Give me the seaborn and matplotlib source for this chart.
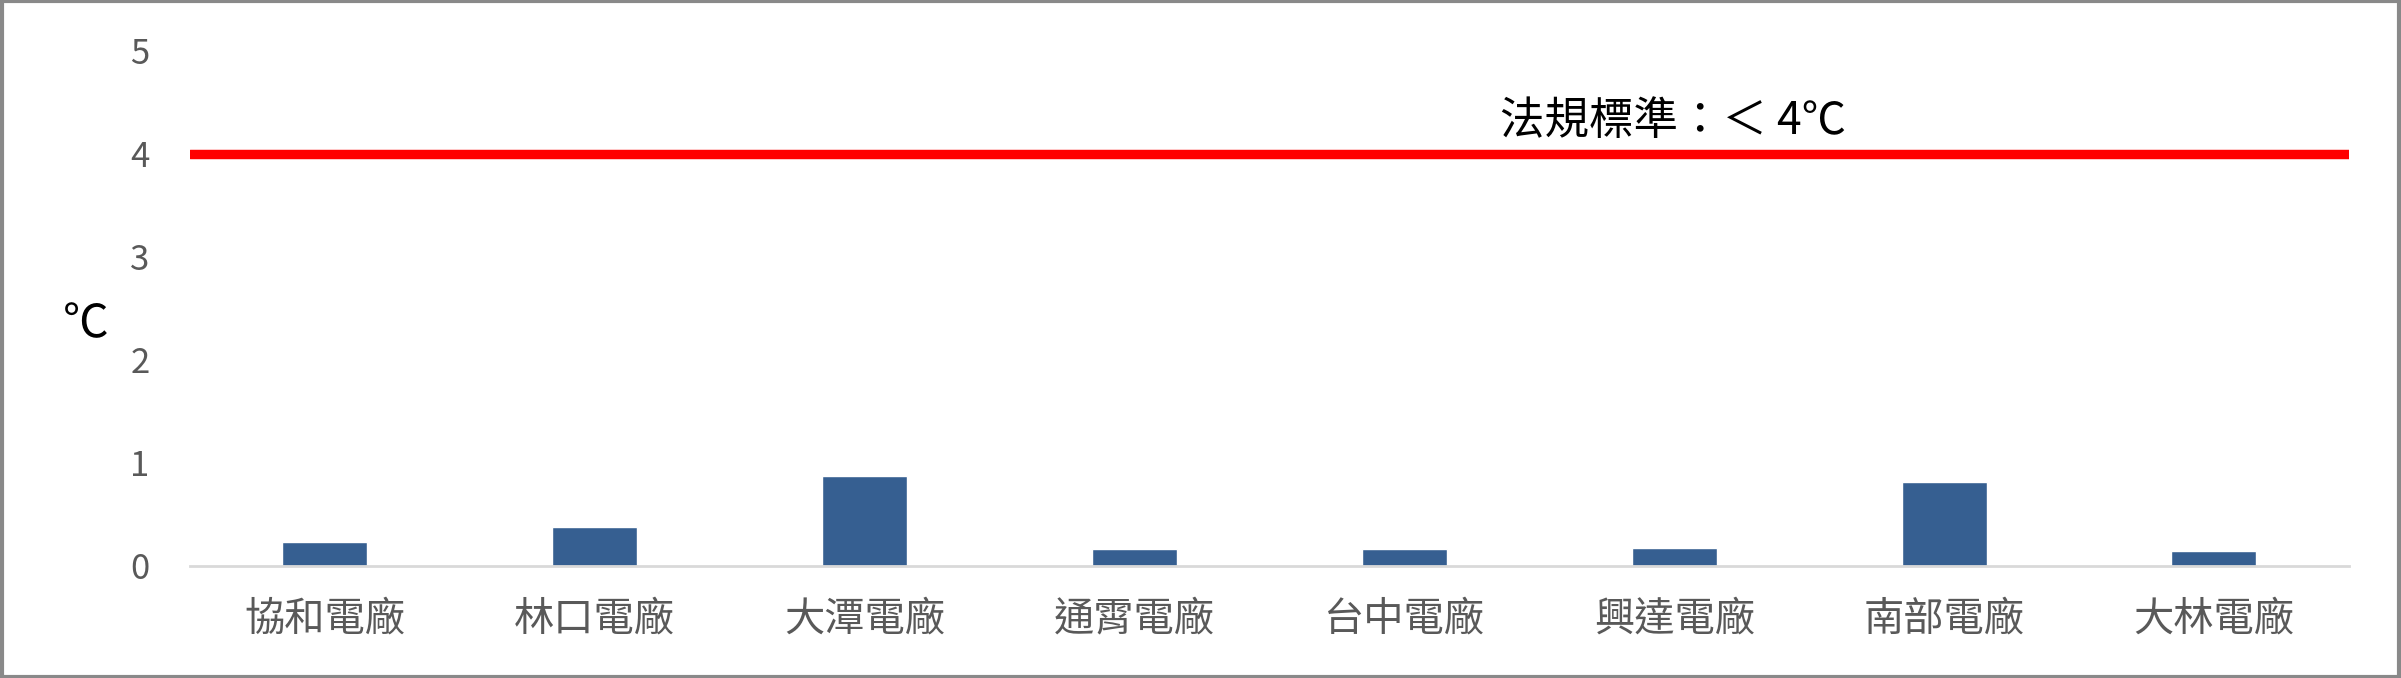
import matplotlib.pyplot as plt
import seaborn as sns
import pandas as pd

plants = ['協和電廠', '林口電廠', '大潭電廠', '通霄電廠', '台中電廠', '興達電廠', '南部電廠', '大林電廠']
temp_diff = [0.23, 0.37, 0.87, 0.16, 0.16, 0.17, 0.81, 0.14]
limit = 4
yticks = [0, 1, 2, 3, 4, 5]

df = pd.DataFrame({'plant': plants, 'value': temp_diff})

sns.set_theme(style='white')
plt.rcParams['font.family'] = ['Noto Sans CJK TC', 'DejaVu Sans']

fig = plt.figure(figsize=(24.01, 6.78), dpi=100)
ax = fig.add_axes([0.0791, 0.1659, 0.8992, 0.7589])

sns.barplot(data=df, x='plant', y='value', color='#365F91', width=0.315,
            saturation=1, ax=ax)
ax.axhline(limit, color='#FF0000', lw=6.8, zorder=3)
ax.text(0.687, 4.32, '法規標準：＜ 4℃', transform=ax.get_yaxis_transform(),
        ha='center', va='center', fontsize=32, color='black')

ax.set_ylim(0, 5)
ax.set_xlim(-0.5, len(plants) - 0.5)
ax.set_yticks(yticks)
ax.set_xlabel('')
ax.set_ylabel('℃', fontsize=33, color='black', rotation=0, va='center')
ax.yaxis.set_label_coords(-0.048, 0.47)
ax.tick_params(axis='y', labelsize=25, labelcolor='#595959', length=0, pad=29)
ax.tick_params(axis='x', labelsize=29, labelcolor='#595959', length=0, pad=24)

for s in ['top', 'right', 'left']:
    ax.spines[s].set_visible(False)
ax.spines['bottom'].set_color('#D9D9D9')
ax.spines['bottom'].set_linewidth(2)

# outer frame
fig.patches.append(plt.Rectangle((0.001, 0.002), 0.998, 0.996, transform=fig.transFigure,
                                 fill=False, edgecolor='#898989', lw=3))

fig.savefig('out.png', dpi=100)
